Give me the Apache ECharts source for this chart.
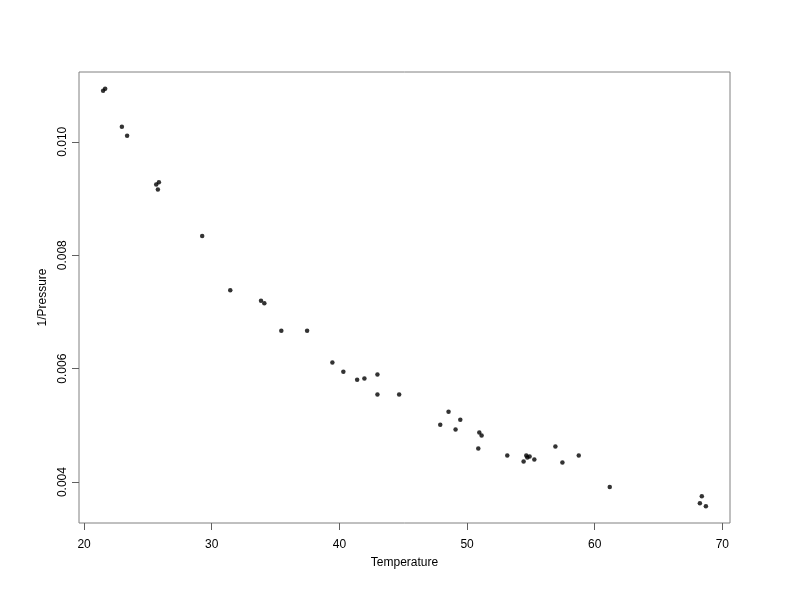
<!DOCTYPE html>
<html>
<head>
<meta charset="utf-8">
<script src="https://cdn.jsdelivr.net/npm/echarts@6/dist/echarts.min.js"></script>
<style>
html,body{margin:0;padding:0;background:#fff;}
#chart{width:792px;height:612px;}
</style>
</head>
<body>
<div id="chart"></div>
<script>
var temperature = [21.49,21.65,22.96,23.37,25.65,25.86,25.78,29.25,31.45,33.86,34.12,35.45,37.47,39.45,40.31,41.39,41.96,42.98,42.98,44.68,48.55,47.90,49.47,49.10,50.96,51.14,50.88,53.15,54.64,54.72,54.90,54.43,55.27,56.92,57.47,58.75,61.18,68.39,68.24,68.71];
var invPressure = [0.010901,0.010936,0.010263,0.010105,0.009245,0.009285,0.009157,0.008337,0.007384,0.007196,0.007155,0.006669,0.006669,0.006107,0.005944,0.005803,0.005826,0.005897,0.005545,0.005545,0.005241,0.005013,0.005101,0.004925,0.004873,0.004820,0.004592,0.004469,0.004469,0.004434,0.004451,0.004363,0.004399,0.004627,0.004346,0.004469,0.003912,0.003749,0.003626,0.003573];
var xTicks = [20,30,40,50,60,70];
var yTicks = [0.004,0.006,0.008,0.010];

var pts = temperature.map(function(t,i){return [t, invPressure[i]];});
var xr = [Math.min.apply(null,temperature), Math.max.apply(null,temperature)];
var yr = [Math.min.apply(null,invPressure), Math.max.apply(null,invPressure)];
var xpad = (xr[1]-xr[0])*0.04, ypad = (yr[1]-yr[0])*0.04;

var chart = echarts.init(document.getElementById('chart'), null, {renderer:'canvas'});
var font = 'Liberation Sans, Arial, Helvetica, sans-serif';
chart.setOption({
  animation:false,
  backgroundColor:'#fff',
  grid:{left:79, top:72, right:62, bottom:89, show:true, borderColor:'#808080', borderWidth:1, backgroundColor:'transparent'},
  xAxis:{
    type:'value', min:xr[0]-xpad, max:xr[1]+xpad,
    name:'Temperature', nameLocation:'middle', nameGap:34,
    nameTextStyle:{color:'#000', fontSize:12, fontFamily:font},
    axisLine:{show:false},
    splitLine:{show:false},
    axisTick:{show:true, length:7, customValues:xTicks, lineStyle:{color:'#606060'}},
    axisLabel:{customValues:xTicks, color:'#000', fontSize:12, fontFamily:font, margin:16,
      formatter:function(v){return String(Math.round(v));}}
  },
  yAxis:{
    type:'value', min:yr[0]-ypad, max:yr[1]+ypad,
    name:'1/Pressure', nameLocation:'middle', nameGap:30,
    nameTextStyle:{color:'#000', fontSize:12, fontFamily:font},
    axisLine:{show:false},
    splitLine:{show:false},
    axisTick:{show:true, length:7, customValues:yTicks, lineStyle:{color:'#606060'}},
    axisLabel:{customValues:yTicks, rotate:90, color:'#000', fontSize:12, fontFamily:font, margin:10,
      formatter:function(v){return v.toFixed(3);}}
  },
  series:[{
    type:'scatter', data:pts, symbol:'circle', symbolSize:4.5,
    itemStyle:{color:'#000'}
  }]
});
</script>
</body>
</html>
